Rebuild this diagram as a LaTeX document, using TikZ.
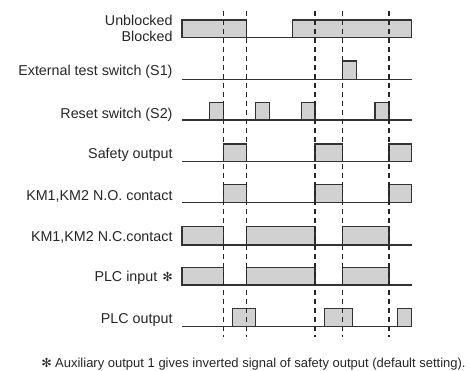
\documentclass[tikz,border=0pt]{standalone}
\usepackage{fontspec}
\setmainfont{Liberation Sans}
\newfontfamily\symfont{DejaVu Sans}
\begin{document}
\begin{tikzpicture}[x=1pt,y=-1pt,
  lbl/.style={anchor=base east, inner sep=0pt, font=\fontsize{14.3}{16}\selectfont, text=black!85},
  note/.style={anchor=base west, inner sep=0pt, font=\fontsize{13}{15}\selectfont, text=black!85},
  star/.style={inner sep=0pt, font=\symfont\bfseries\fontsize{12.5}{14}\selectfont, text=black!85},
  sig/.style={line width=1.3pt, draw=black!80},
  pulse/.style={sig, fill=black!18},
  guide/.style={line width=1.2pt, draw=black!85, dash pattern=on 5pt off 4pt}]
\useasboundingbox (0,0) rectangle (471,370);
% labels
\node[lbl] (l1a) at (172.7,25) {Unblocked};
\node[lbl] (l1b) at (172.7,41.7) {Blocked};
\node[lbl] (l2) at (172.7,75) {External test switch (S1)};
\node[lbl] (l3) at (172.7,118.3) {Reset switch (S2)};
\node[lbl] (l4) at (172.7,158.3) {Safety output};
\node[lbl] (l5) at (172.7,200) {KM1,KM2 N.O. contact};
\node[lbl] (l6) at (172.7,241.7) {KM1,KM2 N.C.contact};
\node[lbl] (l7) at (157.5,281.7) {PLC input};
\node[star] (s7) at (167.5,277) {✻};
\node[lbl] (l8) at (172.7,323.3) {PLC output};
\node[star] (sf) at (46.7,362.5) {✻};
\node[note] (fn) at (55,367.3) {Auxiliary output 1 gives inverted signal of safety output (default setting).};
% row 1
\draw[pulse] (182,20) rectangle (246.7,37.7);
\draw[sig] (246.7,37.7) -- (292.7,37.7);
\draw[pulse] (292.7,20) rectangle (411.7,37.7);
% row 2
\draw[sig] (182,79.3) -- (411.7,79.3);
\draw[pulse] (342.7,61) rectangle (356.7,79.3);
% row 3
\draw[sig] (182,120) -- (411.7,120);
\foreach \a/\b in {209.7/223.3,255.7/269.7,301.7/315,375/389}
  \draw[pulse] (\a,102.3) rectangle (\b,120);
% safety output & N.O.
\foreach \t/\bl in {144/161.7,184.7/202.3}{
  \draw[sig] (182,\bl) -- (411.7,\bl);
  \foreach \a/\b in {223.3/246.7,315/342.7,389/411.7}
    \draw[pulse] (\a,\t) rectangle (\b,\bl);
}
% N.C. & PLC input
\foreach \t/\bl in {226.7/245,267.3/285}{
  \draw[sig] (182,\bl) -- (411.7,\bl);
  \foreach \a/\b in {182/223.3,246.7/315,342.7/389}
    \draw[pulse] (\a,\t) rectangle (\b,\bl);
}
% PLC output
\draw[sig] (182,326.7) -- (411.7,326.7);
\foreach \a/\b in {232.7/255.7,324.3/352.3,397.7/411.7}
  \draw[pulse] (\a,308.3) rectangle (\b,326.7);
% guides
\foreach \x in {223.3,246.7,315,342.7,389}
  \draw[guide] (\x,11) -- (\x,337);
\end{tikzpicture}
\end{document}
